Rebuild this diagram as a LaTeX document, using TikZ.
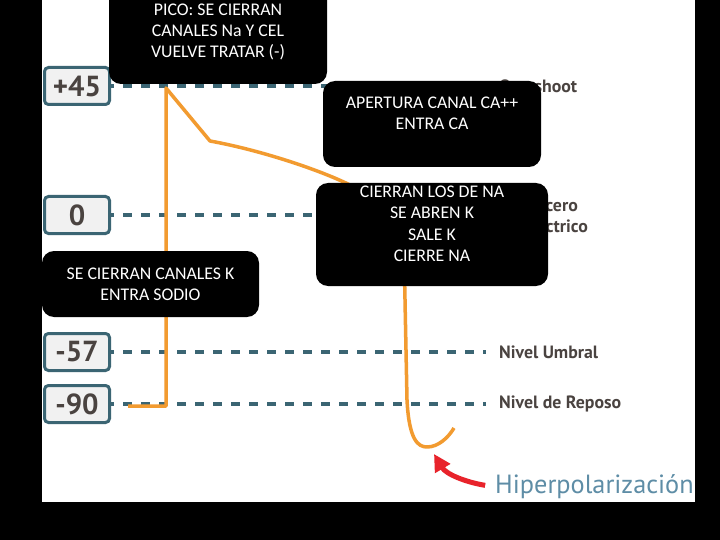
\documentclass[tikz,border=0pt]{standalone}
\usepackage{fontspec}
\setmainfont{Carlito}
\newfontfamily\labfont{PT Sans}
\usetikzlibrary{arrows.meta}
\definecolor{tealdash}{HTML}{3B6573}
\definecolor{potorange}{HTML}{F29B30}
\definecolor{labgrey}{HTML}{4A4340}
\definecolor{hipblue}{HTML}{5E8DA6}
\definecolor{arrowred}{HTML}{E8232B}
\definecolor{valfill}{HTML}{F1F1F1}

\begin{document}
\begin{tikzpicture}[x=1pt,y=-1pt,
  valbox/.style={draw=tealdash,line width=3pt,fill=valfill,rounded corners=4pt,
    minimum width=65pt,minimum height=37pt,inner sep=0pt,text=labgrey,
    font=\labfont\bfseries\fontsize{29}{30}\selectfont},
  nivel/.style={tealdash,line width=3.5pt,dash pattern=on 8.5pt off 9.5pt,dash phase=6pt},
  niveltext/.style={anchor=west,align=left,inner sep=0pt,text=labgrey,
    font=\labfont\bfseries\fontsize{17.8}{21}\selectfont},
  notebox/.style={fill=black,rounded corners=12pt,text=white,align=center,inner sep=0pt,
    font=\fontsize{17.8}{21.3}\selectfont}]
  \useasboundingbox (0,0) rectangle (720,540);

  % fondo
  \fill[black] (0,0) rectangle (720,540);
  \fill[white] (42,0) rectangle (695,502);

  % niveles
  \foreach \y/\val/\nm in {86/+45/v45, 215/0/v0, 352/-57/v57, 404/-90/v90}{
    \draw[nivel] (111,\y) -- (486,\y);
    \node[valbox] (\nm) at (77,\y) {\val};
  }

  % potencial
  \draw[potorange,line width=3.5pt,line join=round]
    (128,406) -- (166,406) -- (166,88) -- (210,141)
    .. controls (260,150) and (320,170) .. (350,185)
    .. controls (395,210) and (405,250) .. (405,300)
    -- (407,400) .. controls (409,440) and (418,447) .. (427,447)
    .. controls (438,447) and (448,438) .. (454,428);

  % etiquetas
  \node[niveltext] (over) at (499,86) {Overshoot};
  \node[niveltext,anchor=east,align=right] (cero) at (588,215.5)
    {Nivel cero\hspace*{10pt}\\eléctrico};
  \node[niveltext] (umbral) at (499,352) {Nivel Umbral};
  \node[niveltext] (reposo) at (499,404) {Nivel de Reposo};

  % hiperpolarizacion
  \node[anchor=west,inner sep=0pt,text=hipblue,font=\labfont\fontsize{26.3}{28}\selectfont]
    (hip) at (495,487) {Hiperpolarización};
  \coordinate (hipmin) at (434,454);
  \draw[arrowred,line width=5pt,shorten <=10pt,-{Triangle[length=17pt,width=17pt]}]
    (hip.west) .. controls (465,482) and (446,474) .. (hipmin);

  % notas
  \node[notebox,minimum width=218pt,minimum height=104pt] (pico) at (218,32)
    {PICO: SE CIERRAN\\CANALES Na Y CEL\\VUELVE TRATAR (-)};
  \node[notebox,minimum width=218pt,minimum height=86pt] (calcio) at (432,124)
    {APERTURA CANAL CA++\\ENTRA CA\\\mbox{}};
  \node[notebox,minimum width=232pt,minimum height=103pt] (potasio) at (432,234.5)
    {CIERRAN LOS DE NA\\SE ABREN K\\SALE K\\CIERRE NA\\\mbox{}};
  \node[notebox,minimum width=217pt,minimum height=66pt] (sodio) at (150.5,284)
    {SE CIERRAN CANALES K\\ENTRA SODIO};
\end{tikzpicture}
\end{document}
